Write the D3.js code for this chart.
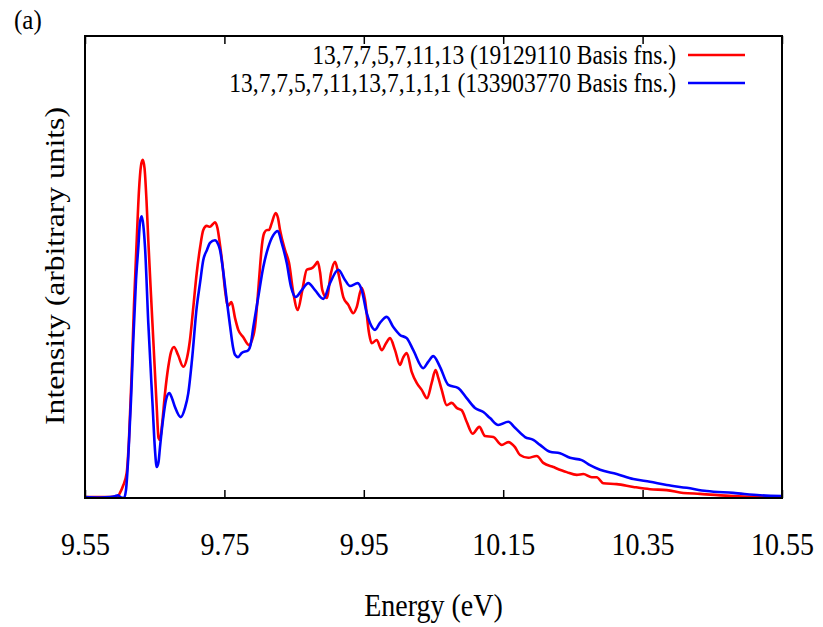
<!DOCTYPE html>
<html>
<head>
<meta charset="utf-8">
<script src="https://cdn.jsdelivr.net/npm/d3@7"></script>
<style>
  body { margin: 0; background: #fff; }
  text { font-family: "Liberation Serif", "Times New Roman", serif; fill: #000; }
</style>
</head>
<body>
<div id="chart-area"></div>
<script>
// data (energy in eV, intensity in arbitrary units)
var redEnergy = [9.5500, 9.5715, 9.5859, 9.5945, 9.5973, 9.6002, 9.6045, 9.6098, 9.6131, 9.6170,
  9.6203, 9.6242, 9.6275, 9.6303, 9.6328, 9.6354, 9.6382, 9.6408, 9.6447, 9.6480,
  9.6529, 9.6555, 9.6576, 9.6605, 9.6648, 9.6695, 9.6734, 9.6777, 9.6834, 9.6910,
  9.6963, 9.7006, 9.7050, 9.7103, 9.7150, 9.7197, 9.7246, 9.7293, 9.7336, 9.7365,
  9.7401, 9.7437, 9.7473, 9.7509, 9.7552, 9.7602, 9.7652, 9.7699, 9.7771, 9.7853,
  9.7896, 9.7939, 9.7975, 9.8011, 9.8039, 9.8072, 9.8111, 9.8140, 9.8179, 9.8236,
  9.8269, 9.8298, 9.8369, 9.8427, 9.8489, 9.8552, 9.8618, 9.8681, 9.8761, 9.8800,
  9.8839, 9.8872, 9.8905, 9.8968, 9.9029, 9.9087, 9.9134, 9.9206, 9.9278, 9.9349,
  9.9398, 9.9470, 9.9517, 9.9575, 9.9613, 9.9685, 9.9757, 9.9819, 9.9876, 9.9948,
  10.0019, 10.0062, 10.0116, 10.0187, 10.0259, 10.0331, 10.0407, 10.0474, 10.0529, 10.0569,
  10.0618, 10.0689, 10.0761, 10.0833, 10.0905, 10.0976, 10.1062, 10.1157, 10.1239, 10.1358,
  10.1479, 10.1573, 10.1669, 10.1741, 10.1860, 10.1981, 10.2075, 10.2219, 10.2411, 10.2555,
  10.2649, 10.2770, 10.2841, 10.2936, 10.3128, 10.3367, 10.3606, 10.3846, 10.4084, 10.4324,
  10.4801, 10.5184, 10.5500];
var redIntensity = [0.002, 0.002, 0.002, 0.003, 0.004, 0.011, 0.026, 0.054, 0.126, 0.271,
  0.418, 0.558, 0.667, 0.719, 0.732, 0.714, 0.645, 0.558, 0.439, 0.342,
  0.197, 0.130, 0.126, 0.158, 0.227, 0.284, 0.316, 0.327, 0.310, 0.284,
  0.303, 0.342, 0.407, 0.487, 0.541, 0.580, 0.589, 0.587, 0.593, 0.597,
  0.584, 0.548, 0.504, 0.450, 0.416, 0.424, 0.390, 0.364, 0.348, 0.331,
  0.342, 0.370, 0.429, 0.500, 0.548, 0.574, 0.580, 0.580, 0.595, 0.617,
  0.606, 0.580, 0.537, 0.509, 0.444, 0.407, 0.450, 0.494, 0.498, 0.504,
  0.511, 0.489, 0.450, 0.433, 0.487, 0.511, 0.487, 0.435, 0.418, 0.400,
  0.413, 0.455, 0.429, 0.357, 0.335, 0.342, 0.320, 0.335, 0.346, 0.320,
  0.288, 0.303, 0.314, 0.273, 0.249, 0.234, 0.216, 0.249, 0.277, 0.260,
  0.234, 0.201, 0.206, 0.195, 0.190, 0.165, 0.139, 0.154, 0.134, 0.132,
  0.115, 0.121, 0.110, 0.093, 0.087, 0.091, 0.076, 0.067, 0.056, 0.050,
  0.052, 0.045, 0.045, 0.032, 0.030, 0.024, 0.019, 0.017, 0.011, 0.009,
  0.004, 0.002, 0.001];

var blueEnergy = [9.5500, 9.5715, 9.5859, 9.5930, 9.5973, 9.6017, 9.6060, 9.6088, 9.6121, 9.6160,
  9.6193, 9.6232, 9.6265, 9.6289, 9.6313, 9.6336, 9.6361, 9.6408, 9.6471, 9.6504,
  9.6529, 9.6555, 9.6576, 9.6619, 9.6662, 9.6709, 9.6748, 9.6791, 9.6873, 9.6935,
  9.6982, 9.7035, 9.7103, 9.7150, 9.7197, 9.7250, 9.7293, 9.7365, 9.7408, 9.7437,
  9.7480, 9.7533, 9.7580, 9.7623, 9.7652, 9.7695, 9.7748, 9.7843, 9.7875, 9.7915,
  9.7986, 9.8058, 9.8130, 9.8202, 9.8265, 9.8322, 9.8394, 9.8456, 9.8523, 9.8609,
  9.8704, 9.8800, 9.8919, 9.9015, 9.9134, 9.9230, 9.9302, 9.9413, 9.9470, 9.9542,
  9.9589, 9.9661, 9.9732, 9.9829, 9.9923, 10.0019, 10.0116, 10.0210, 10.0354, 10.0421,
  10.0497, 10.0593, 10.0712, 10.0856, 10.0976, 10.1095, 10.1215, 10.1311, 10.1430, 10.1573,
  10.1669, 10.1813, 10.1932, 10.2028, 10.2171, 10.2315, 10.2458, 10.2626, 10.2745, 10.2889,
  10.3128, 10.3367, 10.3606, 10.3846, 10.4133, 10.4420, 10.4801, 10.5184, 10.5500];
var blueIntensity = [0.002, 0.001, 0.002, 0.004, 0.006, 0.001, 0.000, 0.017, 0.089, 0.212,
  0.342, 0.472, 0.543, 0.597, 0.610, 0.591, 0.543, 0.379, 0.197, 0.104,
  0.067, 0.078, 0.110, 0.169, 0.212, 0.227, 0.216, 0.197, 0.175, 0.195,
  0.227, 0.299, 0.413, 0.465, 0.515, 0.537, 0.552, 0.558, 0.550, 0.537,
  0.494, 0.429, 0.374, 0.327, 0.310, 0.305, 0.314, 0.320, 0.331, 0.370,
  0.435, 0.500, 0.543, 0.569, 0.578, 0.552, 0.509, 0.457, 0.435, 0.450,
  0.465, 0.450, 0.431, 0.465, 0.494, 0.472, 0.459, 0.465, 0.450, 0.400,
  0.379, 0.364, 0.379, 0.392, 0.370, 0.353, 0.346, 0.320, 0.281, 0.294,
  0.307, 0.284, 0.245, 0.238, 0.216, 0.195, 0.186, 0.173, 0.158, 0.165,
  0.152, 0.132, 0.126, 0.115, 0.100, 0.097, 0.087, 0.082, 0.071, 0.061,
  0.052, 0.041, 0.035, 0.028, 0.022, 0.015, 0.011, 0.006, 0.004];

var tickLabels = ["9.55", "9.75", "9.95", "10.15", "10.35", "10.55"];
var seriesNames = ["13,7,7,5,7,11,13 (19129110 Basis fns.)",
  "13,7,7,5,7,11,13,7,1,1,1 (133903770 Basis fns.)"];
var seriesColors = ["#ff0000", "#0000ff"];

// the original figure is a bit stretched vertically
var stretch = 1.13;

// svg
var margin = {top: 36, right: 41, bottom: 129, left: 85};
var width = 823 - margin.left - margin.right,
    height = 627 - margin.top - margin.bottom;

var root = d3.select("#chart-area")
  .append("svg")
  .attr("width", 823)
  .attr("height", 627);

var svg = root.append("g")
  .attr("transform", "translate(" + margin.left + "," + margin.top + ")");

var xScale = d3.scaleLinear().domain([9.55, 10.55]).range([0, width]);
var yScale = d3.scaleLinear().domain([0, 1]).range([height, 0]);

svg.append("clipPath").attr("id", "clip")
  .append("rect").attr("width", width).attr("height", height);

// curves
var series = [
  d3.zip(redEnergy, redIntensity),
  d3.zip(blueEnergy, blueIntensity)
];

var line = d3.line()
  .x(function(d) { return xScale(d[0]); })
  .y(function(d) { return yScale(d[1]); })
  .curve(d3.curveMonotoneX);

svg.append("g").attr("clip-path", "url(#clip)")
  .selectAll("path")
  .data(series)
  .enter()
  .append("path")
  .attr("d", line)
  .attr("fill", "none")
  .attr("stroke", function(d, i) { return seriesColors[i]; })
  .attr("stroke-width", 2.6)
  .attr("stroke-linejoin", "round");

// axes (ticks point inward, mirrored on top)
var tickVals = tickLabels.map(Number);
var xAxis = d3.axisBottom(xScale)
  .tickValues(tickVals)
  .tickFormat(function(d, i) { return tickLabels[i]; })
  .tickSizeInner(-8)
  .tickSizeOuter(0);

var gx = svg.append("g")
  .attr("class", "x-axis")
  .attr("transform", "translate(0," + height + ")")
  .call(xAxis);
gx.select(".domain").remove();
gx.selectAll("line").attr("stroke", "#000").attr("stroke-width", 1.5);
gx.selectAll("text")
  .attr("y", 0)
  .attr("dy", 0)
  .attr("transform", "translate(0,57) scale(1," + stretch + ")")
  .attr("font-size", 28)
  .style("font-family", "'Liberation Serif', serif");

var topAxis = d3.axisTop(xScale)
  .tickValues(tickVals)
  .tickFormat("")
  .tickSizeInner(-8)
  .tickSizeOuter(0);
var gt = svg.append("g").attr("class", "x-axis-top").call(topAxis);
gt.select(".domain").remove();
gt.selectAll("line").attr("stroke", "#000").attr("stroke-width", 1.5);

// frame
svg.append("rect")
  .attr("width", width)
  .attr("height", height)
  .attr("fill", "none")
  .attr("stroke", "#000")
  .attr("stroke-width", 2);

// labels
svg.append("text")
  .attr("text-anchor", "middle")
  .attr("transform", "translate(" + (width / 2) + "," + (height + 118) + ") scale(1," + stretch + ")")
  .attr("font-size", 28)
  .text("Energy (eV)");

svg.append("text")
  .attr("text-anchor", "middle")
  .attr("transform", "translate(-21," + (height / 2 - 1) + ") rotate(-90) scale(" + stretch + ",1)")
  .attr("font-size", 28)
  .text("Intensity (arbitrary units)");

root.append("text")
  .attr("transform", "translate(14,29) scale(1," + stretch + ")")
  .attr("font-size", 25)
  .text("(a)");

// legend
var legend = svg.selectAll(".legend")
  .data(seriesNames)
  .enter()
  .append("g")
  .attr("class", "legend")
  .attr("transform", function(d, i) { return "translate(0," + (19 + i * 28) + ")"; });

legend.append("text")
  .attr("transform", "translate(591,0) scale(1," + stretch + ")")
  .attr("dy", "0.33em")
  .attr("text-anchor", "end")
  .attr("font-size", 23.5)
  .text(function(d) { return d; });

legend.append("line")
  .attr("x1", 603)
  .attr("x2", 660)
  .attr("stroke", function(d, i) { return seriesColors[i]; })
  .attr("stroke-width", 2.6);
</script>
</body>
</html>
